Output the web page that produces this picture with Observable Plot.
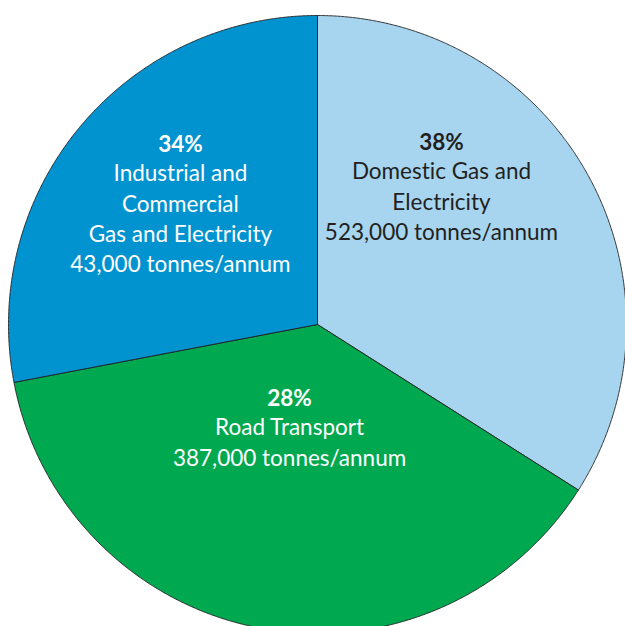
<!DOCTYPE html>
<html>
<head>
<meta charset="utf-8">
<script src="https://cdn.jsdelivr.net/npm/d3@7"></script>
<script src="https://cdn.jsdelivr.net/npm/@observablehq/plot@0.6"></script>
<style>
  html, body { margin: 0; padding: 0; background: #fff; }
  #chart svg { display: block; }
  #chart svg text { font-variant-ligatures: none; font-feature-settings: "liga" 0, "dlig" 0; }
</style>
</head>
<body>
<div id="chart"></div>
<script>
// ---- Data ----
const sectors  = ["Domestic Gas and Electricity", "Road Transport", "Industrial and Commercial Gas and Electricity"];
const shares   = [34, 38, 28];            // slice sizes as drawn (clockwise from 12 o'clock)
const pctLabels = ["38%", "28%", "34%"];  // percentages as printed
const bodyLabels = [
  "Domestic Gas and\nElectricity\n523,000 tonnes/annum",
  "Road Transport\n387,000 tonnes/annum",
  "Industrial and\nCommercial\nGas and Electricity\n43,000 tonnes/annum"
];
const colors     = ["#a7d5ef", "#00a850", "#0093d0"];
const textColors = ["#231f20", "#ffffff", "#ffffff"];

// ---- Layout (not data) ----
const labelLayout = [ {r: 0.712, dA: -26.9}, {r: 0.256, dA: 9.9}, {r: 0.732, dA: 13.1} ];
const fontSize = 22.5;
const lineH = 30.4;
const firstGap = 27;

// ---- Build slices ----
const pie = d3.pie().sort(null).value(d => d)(shares);
const pts = [];
pie.forEach((p, i) => {
  const name = sectors[i];
  pts.push({name, x: 0, y: 0});
  const n = Math.max(2, Math.ceil((p.endAngle - p.startAngle) / (Math.PI / 720)));
  for (let k = 0; k <= n; k++) {
    const a = p.startAngle + (p.endAngle - p.startAngle) * k / n;
    pts.push({name, x: Math.sin(a), y: Math.cos(a)});
  }
  pts.push({name, x: 0, y: 0});
});

const labels = pie.map((p, i) => {
  const mid = (p.startAngle + p.endAngle) / 2 + labelLayout[i].dA * Math.PI / 180;
  const r = labelLayout[i].r;
  const nLines = bodyLabels[i].split("\n").length;
  return {
    name: sectors[i], pct: pctLabels[i], body: bodyLabels[i],
    x: r * Math.sin(mid), y: r * Math.cos(mid),
    bodyDy: firstGap + lineH * (nLines - 1) / 2,
    color: textColors[i]
  };
});

const cx = 317, cy = 324, R = 309;

const chart = Plot.plot({
  width: 625,
  height: 626,
  margin: 0,
  style: {background: "#fff", fontFamily: "Lato, 'Open Sans', sans-serif"},
  x: {domain: [-1, 1], range: [cx - R, cx + R], axis: null},
  y: {domain: [-1, 1], range: [cy + R, cy - R], axis: null},
  color: {domain: sectors, range: colors},
  marks: [
    Plot.line(pts, {x: "x", y: "y", z: "name", fill: "name", stroke: "#231f20", strokeWidth: 0.9, strokeLinejoin: "miter", curve: "linear"}),
    Plot.text(labels, {x: "x", y: "y", text: "pct", fill: "color", fontSize, fontWeight: "bold", lineAnchor: "middle"}),
    ...labels.map(l => Plot.text([l], {x: "x", y: "y", text: "body", fill: "color", fontSize, lineAnchor: "middle", lineHeight: lineH / fontSize, dy: l.bodyDy}))
  ]
});
document.getElementById("chart").appendChild(chart);
</script>
</body>
</html>
